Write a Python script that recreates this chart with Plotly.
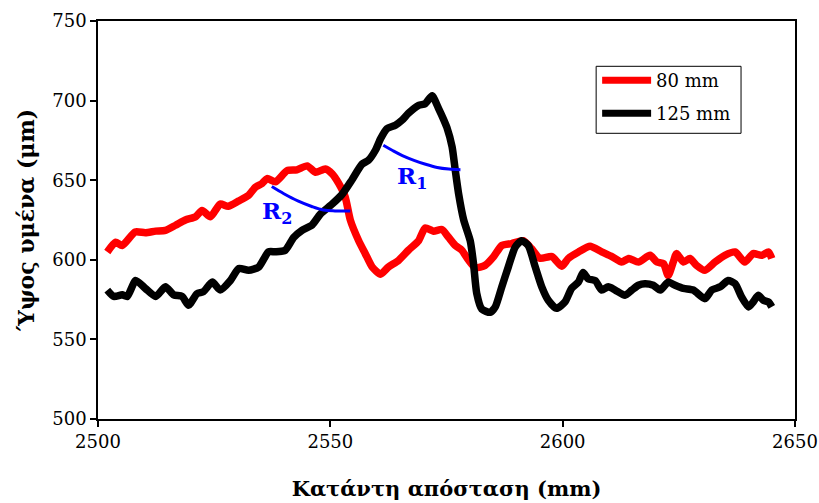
import plotly.graph_objects as go

# Film height profiles along the downstream distance
dist_80 = [2502.0, 2503.8, 2505.2, 2508.0, 2510.2, 2512.4, 2514.5, 2516.7, 2518.8, 2521.0,
           2522.4, 2524.2, 2526.3, 2528.0, 2530.3, 2532.4, 2533.9, 2535.3, 2536.4, 2538.2,
           2540.7, 2542.8, 2545.0, 2546.8, 2548.9, 2550.4, 2551.8, 2553.2, 2554.3, 2556.1,
           2557.5, 2559.0, 2560.8, 2562.5, 2564.7, 2566.8, 2569.0, 2570.4, 2572.2, 2574.0,
           2575.4, 2576.9, 2578.3, 2579.7, 2581.2, 2583.3, 2585.1, 2586.9, 2589.0, 2591.5,
           2593.3, 2595.1, 2597.7, 2599.8, 2601.2, 2603.4, 2605.9, 2608.4, 2610.6, 2612.7,
           2614.2, 2616.3, 2618.8, 2620.3, 2621.7, 2622.7, 2623.8, 2624.5, 2626.0, 2627.4,
           2628.8, 2630.6, 2632.8, 2634.9, 2637.1, 2639.2, 2641.0, 2642.8, 2644.3, 2645.0]
height_80 = [604.9, 611.0, 609.0, 617.5, 617.0, 618.0, 618.5, 621.7, 625.0, 627.0,
             631.0, 627.0, 635.0, 633.6, 637.0, 640.5, 645.7, 647.9, 651.0, 649.0,
             656.0, 656.5, 659.0, 655.0, 657.0, 654.0, 648.0, 639.5, 625.0, 612.0,
             604.0, 595.5, 591.0, 595.5, 599.7, 606.0, 612.0, 620.0, 618.0, 619.0,
             614.3, 609.0, 606.0, 600.0, 595.0, 596.5, 601.8, 609.0, 610.2, 612.0,
             607.0, 601.0, 602.0, 596.0, 600.8, 604.9, 608.5, 605.0, 602.0, 598.6,
             600.8, 598.6, 602.8, 598.6, 597.6, 590.0, 598.6, 603.9, 598.6, 600.8,
             596.5, 593.4, 598.6, 602.8, 604.9, 598.6, 603.9, 602.8, 604.9, 600.8]

dist_125 = [2502.0, 2503.4, 2505.2, 2506.3, 2508.1, 2510.2, 2512.4, 2514.5, 2516.3, 2518.1,
            2519.5, 2521.3, 2522.7, 2524.6, 2526.3, 2528.5, 2530.3, 2532.4, 2534.6, 2536.7,
            2538.2, 2540.3, 2542.1, 2543.9, 2546.1, 2547.8, 2550.4, 2552.5, 2554.6, 2556.8,
            2558.2, 2559.7, 2560.8, 2562.2, 2564.0, 2565.4, 2566.8, 2569.0, 2570.4, 2571.9,
            2573.3, 2574.4, 2575.1, 2576.2, 2576.9, 2577.6, 2578.7, 2580.1, 2580.8, 2581.5,
            2582.6, 2584.4, 2585.5, 2586.9, 2588.3, 2589.8, 2591.2, 2592.6, 2594.1, 2595.5,
            2596.9, 2598.7, 2600.5, 2601.9, 2603.4, 2604.4, 2605.5, 2607.0, 2608.4, 2609.8,
            2611.3, 2613.4, 2614.9, 2616.3, 2617.7, 2619.5, 2621.0, 2622.7, 2624.2, 2626.0,
            2628.1, 2630.6, 2632.1, 2633.9, 2635.6, 2637.1, 2638.5, 2640.0, 2641.0, 2642.1,
            2643.2, 2644.3, 2645.0]
height_125 = [581.0, 577.0, 578.0, 577.0, 587.0, 582.0, 577.0, 583.0, 578.0, 577.0,
              571.5, 578.7, 580.0, 586.0, 581.0, 587.0, 594.5, 593.4, 595.5, 605.0,
              605.0, 606.0, 614.0, 618.5, 622.0, 628.5, 635.0, 641.0, 650.0, 660.0,
              662.5, 668.8, 676.0, 682.4, 684.5, 687.6, 692.0, 697.0, 698.0, 703.0,
              695.0, 688.0, 683.0, 671.0, 656.0, 641.6, 625.0, 612.0, 598.0, 579.0,
              569.0, 567.0, 570.4, 583.0, 595.5, 608.0, 612.0, 609.0, 595.5, 583.0,
              574.6, 569.5, 573.5, 582.0, 586.0, 592.0, 588.0, 587.0, 581.0, 583.0,
              581.0, 577.7, 581.0, 584.0, 585.0, 584.0, 581.0, 586.0, 584.0, 582.0,
              581.0, 575.6, 581.0, 583.0, 587.0, 585.0, 576.7, 570.4, 573.5, 577.7,
              574.6, 573.5, 570.4]

# Curvature arcs marking R1 and R2
arc_r1_x = [2561.4, 2563.5, 2565.5, 2568.0, 2570.5, 2573.0, 2575.5, 2578.0]
arc_r1_y = [672.0, 668.5, 665.5, 662.5, 660.0, 658.0, 657.0, 656.6]
arc_r2_x = [2537.4, 2540.0, 2543.0, 2546.0, 2548.5, 2551.0, 2554.3]
arc_r2_y = [646.0, 641.5, 637.0, 633.5, 631.3, 630.7, 630.6]

series_names = ["80 mm", "125 mm"]
series_colors = ["#ff0000", "#000000"]

x_ticks = [2500, 2550, 2600, 2650]
y_ticks = [500, 550, 600, 650, 700, 750]

SERIF = "DejaVu Serif"

fig = go.Figure()
fig.add_trace(go.Scatter(x=dist_80, y=height_80, mode="lines", name=series_names[0],
                         line=dict(color=series_colors[0], width=7.5, shape="spline",
                                   smoothing=0.6)))
fig.add_trace(go.Scatter(x=dist_125, y=height_125, mode="lines", name=series_names[1],
                         line=dict(color=series_colors[1], width=7.5, shape="spline",
                                   smoothing=0.6)))
fig.add_trace(go.Scatter(x=arc_r1_x, y=arc_r1_y, mode="lines",
                         line=dict(color="#0000ff", width=3, shape="spline")))
fig.add_trace(go.Scatter(x=arc_r2_x, y=arc_r2_y, mode="lines",
                         line=dict(color="#0000ff", width=3, shape="spline")))

fig.add_annotation(x=2567.6, y=651.5, text="<b>R<sub>1</sub></b>", showarrow=False,
                   font=dict(family=SERIF, size=23, color="#0000ff"))
fig.add_annotation(x=2538.6, y=629.5, text="<b>R<sub>2</sub></b>", showarrow=False,
                   font=dict(family=SERIF, size=23, color="#0000ff"))

# Legend drawn in paper coordinates
L, R, B, T = 97.5, 795.0, 418.7, 20.7
def px(xp):
    return (xp - L) / (R - L)
def py(yp):
    return (B - yp) / (B - T)

fig.add_shape(type="rect", xref="paper", yref="paper",
              x0=px(596), x1=px(741), y0=py(133), y1=py(66),
              line=dict(color="black", width=1), fillcolor="white")
for i, ypix in enumerate([80, 113]):
    fig.add_shape(type="line", xref="paper", yref="paper",
                  x0=px(602), x1=px(651), y0=py(ypix), y1=py(ypix),
                  line=dict(color=series_colors[i], width=7))
    fig.add_annotation(xref="paper", yref="paper", x=px(654), y=py(ypix),
                       text=series_names[i], showarrow=False, xanchor="left",
                       yanchor="middle",
                       font=dict(family=SERIF, size=18, color="black"))

axis_common = dict(showgrid=False, zeroline=False, showline=True, linecolor="black",
                   linewidth=1.5, mirror=True, ticks="outside", ticklen=6,
                   tickcolor="black", tickwidth=1.5, automargin=False,
                   tickfont=dict(family=SERIF, size=18, color="black"))

fig.update_layout(
    width=819, height=503,
    margin=dict(l=L, r=819 - R, t=T, b=503 - B),
    plot_bgcolor="white", paper_bgcolor="white",
    showlegend=False,
    xaxis=dict(range=[2500, 2650], tickvals=x_ticks,
               title=dict(text="<b>Κατάντη απόσταση (mm)</b>", standoff=30,
                          font=dict(family=SERIF, size=21, color="black")),
               **axis_common),
    yaxis=dict(range=[500, 750], tickvals=y_ticks,
               title=dict(text="<b>Ύψος υμένα (μm)</b>", standoff=12,
                          font=dict(family=SERIF, size=22, color="black")),
               **axis_common),
)

fig.write_html("out.html")
